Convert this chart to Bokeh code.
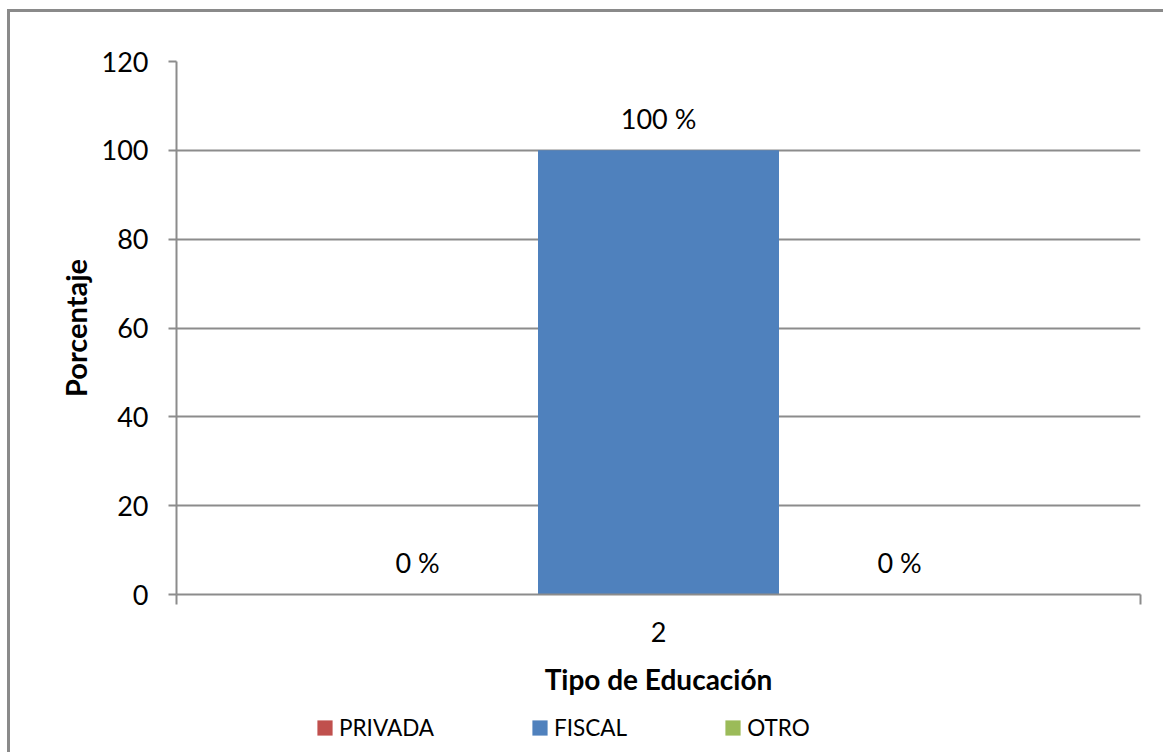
from bokeh.plotting import figure
from bokeh.layouts import column
from bokeh.models import (ColumnDataSource, FixedTicker, Legend, LegendItem, Range1d)
from bokeh.embed import file_html
from bokeh.resources import INLINE
from bokeh.core.properties import value

# ---- data ----
series = ["PRIVADA", "FISCAL", "OTRO"]
values = [0, 100, 0]
labels = ["0 %", "100 %", "0 %"]
colors = ["#C0504D", "#4F81BD", "#9BBB59"]
category = ["2"]
y_ticks = [0, 20, 40, 60, 80, 100, 120]

FONT = "Lato"
GRID = "#8c8c8c"

n = len(series)
slot = 1.0 / (n + 1)
xs = [slot * (i + 1) for i in range(n)]

p = figure(width=1153, height=688, output_backend="svg", toolbar_location=None,
           x_range=Range1d(0, 1), y_range=Range1d(0, 120),
           min_border_left=166, min_border_right=23, min_border_top=49,
           min_border_bottom=106)
p.outline_line_color = None
p.background_fill_color = "white"
p.border_fill_color = "white"

sources = []
for i in range(n):
    src = ColumnDataSource(dict(x=[xs[i]], top=[values[i]], lab=[labels[i]]))
    sources.append(src)
    p.vbar(x="x", top="top", bottom=0, width=slot, source=src,
           fill_color=colors[i], line_color=None)
    p.text(x="x", y="top", text="lab", source=src, text_align="center",
           text_baseline="middle", y_offset=-32, text_font=value(FONT),
           text_font_size="27px", text_color="black")

# y axis
p.yaxis.ticker = FixedTicker(ticks=y_ticks)
p.yaxis.axis_line_color = GRID
p.yaxis.axis_line_width = 2
p.yaxis.major_tick_line_color = GRID
p.yaxis.major_tick_line_width = 2
p.yaxis.major_tick_out = 8
p.yaxis.major_tick_in = 0
p.yaxis.minor_tick_line_color = None
p.yaxis.major_label_standoff = 20
p.yaxis.major_label_text_font = FONT
p.yaxis.major_label_text_font_size = "27px"
p.yaxis.major_label_text_color = "black"
p.yaxis.axis_label = "Porcentaje"
p.yaxis.axis_label_text_font = FONT
p.yaxis.axis_label_text_font_style = "bold"
p.yaxis.axis_label_text_font_size = "29px"
p.yaxis.axis_label_text_color = "black"
p.yaxis.axis_label_standoff = 6

# x axis: single category centred, ticks at the edges
p.xaxis.ticker = FixedTicker(ticks=[0.5], minor_ticks=[0, 1])
p.xaxis.major_label_overrides = {0.5: category[0]}
p.xaxis.axis_line_color = GRID
p.xaxis.axis_line_width = 2
p.xaxis.major_tick_line_color = None
p.xaxis.major_tick_out = 0
p.xaxis.major_tick_in = 0
p.xaxis.minor_tick_line_color = GRID
p.xaxis.minor_tick_line_width = 2
p.xaxis.minor_tick_out = 10
p.xaxis.minor_tick_in = 0
p.xaxis.major_label_standoff = 17
p.xaxis.major_label_text_font = FONT
p.xaxis.major_label_text_font_size = "27px"
p.xaxis.major_label_text_color = "black"
p.xaxis.axis_label = "Tipo de Educación"
p.xaxis.axis_label_text_font = FONT
p.xaxis.axis_label_text_font_style = "bold"
p.xaxis.axis_label_text_font_size = "28px"
p.xaxis.axis_label_text_color = "black"
p.xaxis.axis_label_standoff = 17

p.xgrid.grid_line_color = None
p.ygrid.ticker = FixedTicker(ticks=y_ticks)
p.ygrid.grid_line_color = GRID
p.ygrid.grid_line_width = 2

# legend strip below the chart (zero-width renderers only supply the legend swatches)
lg = figure(width=1153, height=52, output_backend="svg", toolbar_location=None,
            x_range=Range1d(0, 1), y_range=Range1d(-1000, -999),
            x_axis_location=None, y_axis_location=None,
            min_border_left=0, min_border_right=0, min_border_top=0, min_border_bottom=0)
lg.outline_line_color = None
lg.xgrid.grid_line_color = None
lg.ygrid.grid_line_color = None
lg_renderers = []
for i in range(n):
    r = lg.vbar(x="x", top="top", bottom=0, width=0, source=sources[i],
                fill_color=colors[i], line_color=None)
    lg_renderers.append(r)
legend = Legend(items=[LegendItem(label=series[i], renderers=[lg_renderers[i]]) for i in range(n)],
                orientation="horizontal", location=(139, 10),
                glyph_width=19, glyph_height=19, label_standoff=5, spacing=96,
                label_height=30, padding=0, margin=0, border_line_color=None,
                background_fill_alpha=0,
                label_text_font=FONT, label_text_font_size="22.5px", label_text_color="black")
lg.add_layout(legend, "center")

layout = column(p, lg, spacing=0)
layout.styles = {"margin-left": "7px", "margin-top": "9px",
                 "border-left": "3px solid #8a8a8a", "border-top": "3px solid #8a8a8a"}

open("out.html", "w").write(file_html(layout, INLINE))
